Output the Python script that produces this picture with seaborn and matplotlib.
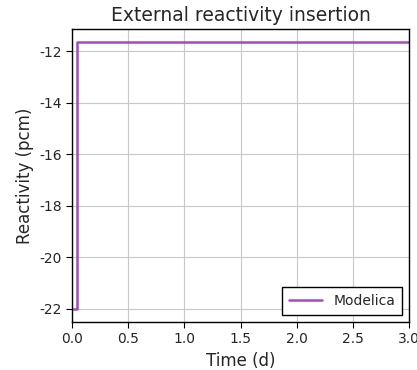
import numpy as np
import pandas as pd
import matplotlib
matplotlib.use("Agg")
import matplotlib.pyplot as plt
import seaborn as sns

# datos
time_d = [0.0, 0.04, 0.04, 3.0]
reactivity_pcm = [-22.0, -22.0, -11.65, -11.65]
series = ["Modelica"] * 4

df = pd.DataFrame({"Time": time_d, "Reactivity": reactivity_pcm, "Source": series})

sns.set_style("whitegrid", {"axes.edgecolor": "black", "xtick.bottom": True,
                            "ytick.left": True, "grid.color": "#c8c8c8"})
plt.rcParams["font.family"] = ["DejaVu Sans"]
plt.rcParams["axes.unicode_minus"] = False

fig = plt.figure(figsize=(4.17, 3.70), dpi=100)
ax = fig.add_axes([0.173, 0.130, 0.808, 0.792])

sns.lineplot(data=df, x="Time", y="Reactivity", hue="Source", sort=False,
             estimator=None, palette=["#a24bbf"], linewidth=1.8, ax=ax)

ax.set_xlim(0, 3.0)
ax.set_xticks(np.arange(0, 3.01, 0.5))
ax.set_yticks([-22, -20, -18, -16, -14, -12])
ax.set_title("External reactivity insertion", fontsize=13.5)
ax.set_xlabel("Time (d)", fontsize=12)
ax.set_ylabel("Reactivity (pcm)", fontsize=12)
ax.tick_params(labelsize=10, length=4, color="black")
for s in ax.spines.values():
    s.set_linewidth(1.0)

leg = ax.legend(loc="lower right", fontsize=10, fancybox=False, framealpha=1,
                edgecolor="black", handlelength=2.4, borderpad=0.5)
leg.get_frame().set_linewidth(1.0)

fig.savefig("out.png", dpi=100)
